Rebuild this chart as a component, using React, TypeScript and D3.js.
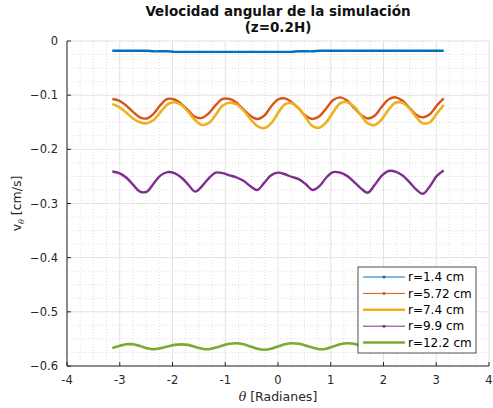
import * as d3 from 'd3'
import React from 'react'

// theta samples: 49 points from -pi to pi
const theta = d3.range(49).map(i => -Math.PI + i * (2 * Math.PI / 48))

const vR14 = [-0.018,-0.018,-0.018,-0.018,-0.018,-0.018,-0.019,-0.019,-0.019,-0.020,-0.020,-0.020,-0.020,-0.020,-0.020,-0.020,-0.020,-0.020,-0.020,-0.020,-0.020,-0.020,-0.020,-0.020,-0.020,-0.020,-0.020,-0.019,-0.019,-0.019,-0.018,-0.018,-0.018,-0.018,-0.018,-0.018,-0.018,-0.018,-0.018,-0.018,-0.018,-0.018,-0.018,-0.018,-0.018,-0.018,-0.018,-0.018,-0.018]

const vR572 = [-0.107,-0.110,-0.119,-0.131,-0.141,-0.143,-0.134,-0.118,-0.107,-0.108,-0.116,-0.128,-0.140,-0.142,-0.133,-0.118,-0.107,-0.107,-0.114,-0.126,-0.138,-0.144,-0.138,-0.121,-0.108,-0.106,-0.113,-0.125,-0.138,-0.144,-0.139,-0.124,-0.109,-0.104,-0.110,-0.123,-0.136,-0.143,-0.138,-0.122,-0.108,-0.104,-0.110,-0.123,-0.136,-0.141,-0.135,-0.119,-0.106]

const vR74 = [-0.116,-0.122,-0.132,-0.143,-0.150,-0.152,-0.146,-0.131,-0.117,-0.113,-0.118,-0.131,-0.146,-0.155,-0.151,-0.136,-0.119,-0.114,-0.117,-0.128,-0.144,-0.157,-0.161,-0.152,-0.133,-0.117,-0.115,-0.124,-0.141,-0.157,-0.160,-0.150,-0.131,-0.115,-0.113,-0.121,-0.137,-0.152,-0.155,-0.145,-0.127,-0.114,-0.114,-0.124,-0.140,-0.152,-0.150,-0.134,-0.118]

const vR99 = [-0.241,-0.244,-0.252,-0.265,-0.278,-0.278,-0.263,-0.248,-0.242,-0.244,-0.252,-0.265,-0.278,-0.268,-0.253,-0.243,-0.244,-0.248,-0.252,-0.258,-0.268,-0.275,-0.262,-0.248,-0.243,-0.246,-0.251,-0.255,-0.264,-0.275,-0.268,-0.252,-0.242,-0.243,-0.249,-0.260,-0.272,-0.280,-0.266,-0.249,-0.240,-0.241,-0.248,-0.260,-0.274,-0.282,-0.268,-0.249,-0.239]

const vR122 = [-0.567,-0.563,-0.560,-0.560,-0.563,-0.567,-0.569,-0.567,-0.564,-0.561,-0.560,-0.561,-0.565,-0.568,-0.569,-0.566,-0.562,-0.559,-0.558,-0.560,-0.564,-0.568,-0.570,-0.568,-0.564,-0.560,-0.558,-0.559,-0.562,-0.566,-0.569,-0.568,-0.564,-0.560,-0.558,-0.559,-0.563,-0.567,-0.569,-0.567,-0.563,-0.560,-0.559,-0.561,-0.565,-0.568,-0.569,-0.566,-0.562]

const seriesNames = ['r=1.4 cm', 'r=5.72 cm', 'r=7.4 cm', 'r=9.9 cm', 'r=12.2 cm']
const seriesValues = [vR14, vR572, vR74, vR99, vR122]
const colors = ['#0072BD', '#D95319', '#EDB120', '#7E2F8E', '#77AC30']
const dotted = [true, true, false, true, false]

const xTicks = [-4, -3, -2, -1, 0, 1, 2, 3, 4]
const yTicks = [0, -0.1, -0.2, -0.3, -0.4, -0.5, -0.6]

const W = 493, H = 408
const left = 67, right = 489, top = 41, bottom = 366
const font = 'DejaVu Sans, sans-serif'

export default function App() {
  const x = d3.scaleLinear().domain([-4, 4]).range([left, right])
  const y = d3.scaleLinear().domain([-0.6, 0]).range([bottom, top])

  const line = d3.line<number>()
    .x((_, i) => x(theta[i]))
    .y(d => y(d))
    .curve(d3.curveCatmullRom)

  const xMinor = d3.range(-4, 4.001, 0.25).filter(v => Math.abs(v - Math.round(v)) > 1e-6)
  const yMinor = d3.range(-0.6, 0.0001, 0.025).filter(v => Math.abs(v * 10 - Math.round(v * 10)) > 1e-6)

  const lg = { x: 358, y: 267, w: 118, h: 86 }

  return (
    <svg width={W} height={H} style={{ position: 'absolute', left: 0, top: 0, background: '#fff' }}>
      {/* minor grid */}
      <g stroke="#d0d0d0" strokeWidth={0.7} strokeDasharray="1,2">
        {xMinor.map(v => <line key={'xm' + v} x1={x(v)} x2={x(v)} y1={top} y2={bottom} />)}
        {yMinor.map(v => <line key={'ym' + v} x1={left} x2={right} y1={y(v)} y2={y(v)} />)}
      </g>
      {/* major grid */}
      <g stroke="#e2e2e2" strokeWidth={1}>
        {xTicks.map(v => <line key={'xg' + v} x1={x(v)} x2={x(v)} y1={top} y2={bottom} />)}
        {yTicks.map(v => <line key={'yg' + v} x1={left} x2={right} y1={y(v)} y2={y(v)} />)}
      </g>

      {/* data */}
      {seriesValues.map((vals, s) => (
        <path key={s} d={line(vals) || ''} fill="none" stroke={colors[s]}
          strokeWidth={dotted[s] ? 2.4 : 2.6} strokeLinejoin="round" />
      ))}

      {/* axes */}
      <g stroke="#262626" strokeWidth={1} fill="none">
        <line x1={left} x2={left} y1={top} y2={bottom} />
        <line x1={left} x2={right} y1={bottom} y2={bottom} />
        {xTicks.map(v => <line key={'xt' + v} x1={x(v)} x2={x(v)} y1={bottom} y2={bottom - 4} />)}
        {yTicks.map(v => <line key={'yt' + v} x1={left} x2={left + 4} y1={y(v)} y2={y(v)} />)}
      </g>
      <g fontFamily={font} fontSize={11.5} fill="#262626">
        {xTicks.map(v => (
          <text key={'xl' + v} x={x(v)} y={bottom + 18} textAnchor="middle">{v}</text>
        ))}
        {yTicks.map(v => (
          <text key={'yl' + v} x={left - 9} y={y(v) + 4} textAnchor="end">{v === 0 ? '0' : d3.format('.1f')(v)}</text>
        ))}
      </g>

      {/* labels */}
      <text x={(left + right) / 2} y={401} textAnchor="middle" fontFamily={font} fontSize={12.5} fill="#262626">
        <tspan fontStyle="italic" fontFamily="DejaVu Serif, serif">θ</tspan> [Radianes]
      </text>
      <text transform={`translate(21,${(top + bottom) / 2}) rotate(-90)`} textAnchor="middle"
        fontFamily={font} fontSize={12.5} fill="#262626">
        v<tspan fontSize={8} dy={3} fontStyle="italic" fontFamily="DejaVu Serif, serif">θ</tspan>
        <tspan dy={-3}> [cm/s]</tspan>
      </text>
      <text x={(left + right) / 2} y={16} textAnchor="middle" fontFamily={font} fontSize={13.5} fontWeight="bold" fill="#111">
        Velocidad angular de la simulación
      </text>
      <text x={(left + right) / 2} y={32} textAnchor="middle" fontFamily={font} fontSize={13.5} fontWeight="bold" fill="#111">
        (z=0.2H)
      </text>

      {/* legend */}
      <rect x={lg.x} y={lg.y} width={lg.w} height={lg.h} fill="#fff" stroke="#262626" strokeWidth={0.8} />
      {seriesNames.map((name, s) => {
        const ly = lg.y + 10 + s * 16.4
        return (
          <g key={name}>
            <line x1={lg.x + 5} x2={lg.x + 47} y1={ly} y2={ly} stroke={colors[s]} strokeWidth={dotted[s] ? 1 : 2.5} />
            {dotted[s] && <circle cx={lg.x + 26} cy={ly} r={1.5} fill={colors[s]} />}
            <text x={lg.x + 50} y={ly + 4.2} fontFamily={font} fontSize={12} fill="#000">{name}</text>
          </g>
        )
      })}
    </svg>
  )
}
